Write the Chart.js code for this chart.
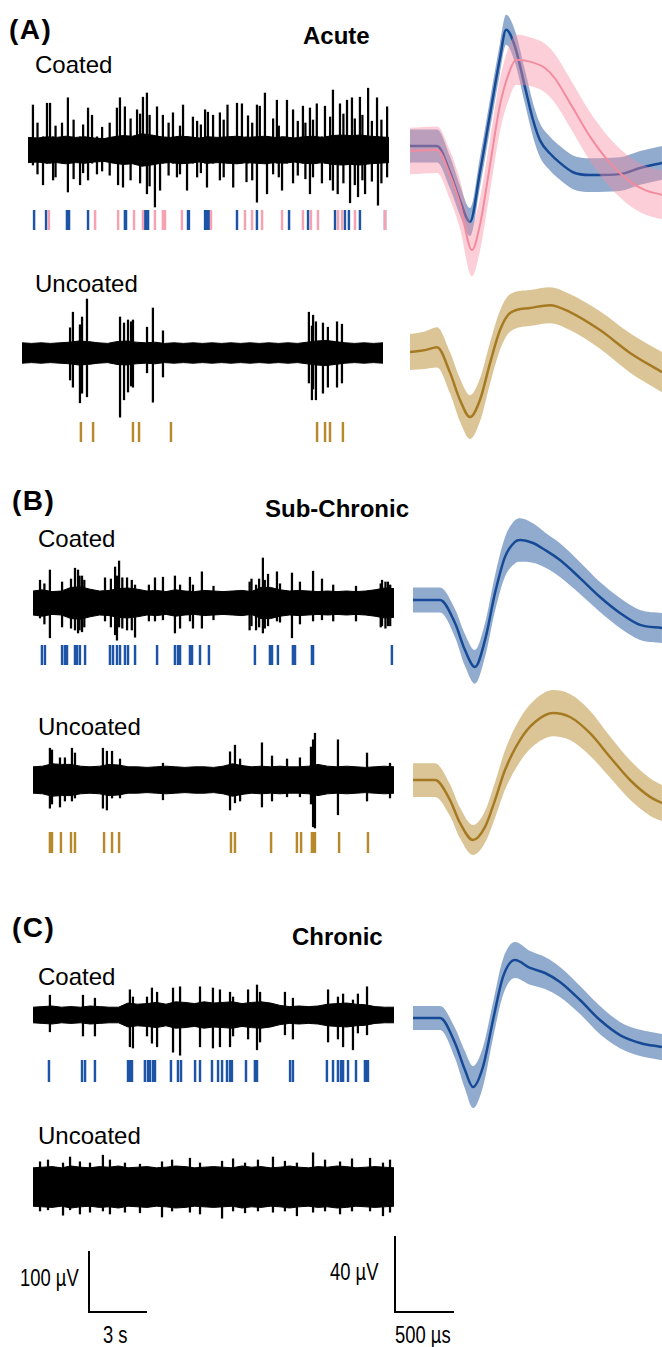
<!DOCTYPE html>
<html>
<head>
<meta charset="utf-8">
<script src="https://cdn.jsdelivr.net/npm/chart.js@4.4.1/dist/chart.umd.min.js"></script>
<style>
  body { margin: 0; width: 662px; height: 1347px; position: relative; overflow: hidden; background: #fff;
         font-family: "Liberation Sans", Arial, Helvetica, sans-serif; color: #000; }
  .lbl { position: absolute; white-space: nowrap; line-height: 1; }
  .panel { font-size: 28px; font-weight: bold; letter-spacing: 1.5px; }
  .title { font-size: 24px; font-weight: bold; }
  .cond { font-size: 24px; }
  .bar { font-size: 23px; transform: scaleX(0.8); transform-origin: left top; }
  canvas { position: absolute; }
</style>
</head>
<body>
<div class="lbl panel" style="left:9px;top:16px">(A)</div>
<div class="lbl title" style="left:303px;top:24px">Acute</div>
<div class="lbl cond" style="left:35px;top:53px">Coated</div>
<div class="lbl cond" style="left:35px;top:272px">Uncoated</div>

<div class="lbl panel" style="left:12px;top:487px">(B)</div>
<div class="lbl title" style="left:265px;top:497px">Sub-Chronic</div>
<div class="lbl cond" style="left:38px;top:527px">Coated</div>
<div class="lbl cond" style="left:38px;top:715px">Uncoated</div>

<div class="lbl panel" style="left:12px;top:914px">(C)</div>
<div class="lbl title" style="left:292px;top:925px">Chronic</div>
<div class="lbl cond" style="left:38px;top:965px">Coated</div>
<div class="lbl cond" style="left:38px;top:1124px">Uncoated</div>

<div class="lbl bar" style="left:20px;top:1267px">100 µV</div>
<div class="lbl bar" style="left:103px;top:1324px">3 s</div>
<div class="lbl bar" style="left:330px;top:1261px">40 µV</div>
<div class="lbl bar" style="left:395px;top:1324px">500 µs</div>

<script>
// ---- scales of the figure (from the scale bars) ----
const TRACE_PX_PER_S = 19;       // 3 s  -> 57 px
const TRACE_PX_PER_UV = 0.6;     // 100 uV -> 60 px
const WAVE_PX_PER_US = 58 / 500; // 500 us -> 58 px
const WAVE_PX_PER_UV = 75 / 40;  // 40 uV -> 75 px

// ---- raw traces: noise band half-width (uV) every 0.5 s ----
const coreTimesS = [0,0.5,1,1.5,2,2.5,3,3.5,4,4.5,5,5.5,6,6.5,7,7.5,8,8.5,9,9.5,10,10.5,11,11.5,12,12.5,13,13.5,14,14.5,15,15.5,16,16.5,17,17.5,18,18.5,19];
const acuteCoatedCore   = [21,20,22,21,23,21,22,20,19,22,24,23,27,25,22,21,23,22,20,22,21,22,23,21,22,23,21,22,20,22,23,21,24,25,24,25,23,22,21];
const acuteUncoatedCore = [17,16,17,16,17,18,20,19,17,16,19,20,18,17,18,16,17,16,17,16,17,16,17,16,17,16,17,16,17,16,18,20,21,19,17,16,17,16,17];
const subCoatedCore     = [20,22,19,20,26,27,23,20,21,24,25,23,20,21,19,22,20,19,21,20,19,20,21,19,26,26,22,20,21,20,19,20,19,20,19,20,22,25,24];
const subUncoatedCore   = [22,23,27,26,26,23,22,23,26,25,22,22,21,22,23,22,21,22,22,21,23,27,24,22,23,22,23,22,22,23,26,23,22,23,22,21,22,23,22];
const chronCoatedCore   = [13,14,15,13,14,13,15,14,13,13,20,18,19,21,18,22,21,19,22,20,21,22,19,21,22,20,16,14,15,14,15,18,19,20,18,17,14,13,13];
const chronUncoatedCore = [32,33,34,32,35,33,32,34,33,35,32,33,34,32,33,35,34,32,33,34,33,32,35,33,34,32,33,35,33,32,34,33,35,34,32,33,34,33,32];

// ---- spikes: time (s), top and bottom (uV) ----
const acuteCoatedSpikeT  = [0.26,0.5,0.79,1.0,1.16,1.32,1.45,1.79,2.1,2.4,2.74,2.9,3.16,3.37,3.63,3.9,4.3,4.68,4.74,4.84,5.0,5.1,5.4,5.74,5.9,6.05,6.26,6.4,6.68,6.79,6.95,7.1,7.4,7.63,7.84,8.0,8.16,8.37,8.68,8.9,9.1,9.32,9.42,9.47,9.74,10.1,10.3,10.5,10.8,11.0,11.26,11.5,11.58,11.8,12.05,12.2,12.47,12.58,12.9,13.1,13.2,13.37,13.63,13.95,14.2,14.47,14.6,14.84,15.0,15.2,15.47,15.63,15.9,16.05,16.3,16.42,16.6,16.79,16.95,17.05,17.2,17.37,17.47,17.6,17.74,17.9,18.1,18.37,18.42,18.6,18.9];
const acuteCoatedSpikeHi = [75,45,22,78,78,22,40,45,87,50,22,42,70,58,22,38,45,70,22,87,22,72,52,67,60,88,95,58,22,72,22,58,45,62,22,40,75,22,55,48,42,67,22,63,58,62,50,75,22,78,77,22,57,45,75,73,95,22,52,83,40,22,83,67,48,73,45,70,50,77,22,73,55,100,22,77,60,83,22,87,52,22,88,58,22,103,48,87,22,50,72];
const acuteCoatedSpikeLo = [-25,-40,-58,-22,-22,-50,-45,-22,-70,-48,-58,-38,-50,-22,-40,-35,-42,-22,-58,-22,-62,-22,-50,-22,-55,-22,-73,-60,-95,-22,-67,-22,-42,-22,-45,-40,-22,-67,-22,-45,-38,-22,-62,-22,-22,-50,-45,-22,-62,-22,-22,-53,-22,-50,-87,-22,-22,-73,-40,-22,-45,-67,-22,-55,-42,-22,-48,-73,-45,-22,-55,-22,-50,-67,-73,-22,-55,-22,-88,-22,-58,-78,-22,-50,-73,-22,-52,-22,-92,-55,-45];

const acuteUncoatedSpikeT  = [2.53,2.68,3.05,3.16,3.42,5.16,5.37,5.58,5.74,5.84,6.58,6.89,7.42,15.1,15.26,15.32,15.47,15.84,16.1,16.58,16.84];
const acuteUncoatedSpikeHi = [42,68,47,60,90,60,50,55,52,55,43,75,37,68,45,63,52,50,43,52,48];
const acuteUncoatedSpikeLo = [-45,-57,-83,-67,-73,-107,-78,-65,-55,-57,-33,-82,-40,-50,-78,-60,-78,-67,-57,-57,-50];

const subCoatedSpikeT  = [0.37,0.6,0.89,1.53,2.0,2.21,2.37,2.45,2.58,2.7,3.79,4.1,4.32,4.42,4.53,4.7,4.95,5.2,5.37,6.1,6.42,6.84,7.47,7.74,8.26,8.42,8.89,9.5,11.4,11.5,11.74,11.9,12.1,12.2,12.37,12.84,13.0,13.63,14.05,14.74,15.21,15.8,17.0,18.3,18.37,18.55,18.68,18.8];
const subCoatedSpikeHi = [38,32,55,35,40,58,55,45,45,38,42,40,60,45,70,42,42,38,30,30,42,43,45,30,43,30,52,28,35,40,30,40,75,38,48,52,32,50,35,53,40,30,28,32,38,35,35,30];
const subCoatedSpikeLo = [-25,-35,-58,-40,-42,-45,-50,-45,-48,-40,-30,-40,-53,-62,-40,-42,-45,-45,-57,-30,-30,-28,-50,-42,-30,-42,-42,-28,-45,-38,-45,-40,-50,-42,-38,-30,-32,-58,-35,-30,-28,-30,-30,-40,-38,-42,-38,-38];

const subUncoatedSpikeT  = [0.89,1.0,1.42,1.68,2.05,2.21,3.68,3.89,4.16,4.58,6.84,10.37,10.63,10.9,12.05,12.58,13.37,14.05,14.63,14.74,14.84,16.05,17.58,18.79];
const subUncoatedSpikeHi = [53,50,37,37,53,45,53,48,48,35,28,47,58,35,62,40,35,37,55,67,78,67,45,28];
const subUncoatedSpikeLo = [-47,-40,-45,-35,-35,-30,-47,-50,-30,-30,-33,-50,-38,-35,-45,-35,-28,-28,-40,-78,-80,-58,-35,-30];

const chronCoatedSpikeT  = [0.89,2.63,3.26,5.1,5.26,6.0,6.26,6.53,7.37,7.74,8.79,9.47,9.84,10.37,10.53,11.32,11.79,11.95,13.26,13.68,15.53,16.05,16.32,16.84,17.1,17.58];
const chronCoatedSpikeHi = [33,33,28,42,30,30,45,38,45,47,47,45,42,38,30,42,50,38,38,28,42,30,35,25,35,47];
const chronCoatedSpikeLo = [-28,-35,-35,-53,-55,-35,-47,-53,-62,-67,-53,-55,-53,-53,-35,-40,-58,-45,-33,-40,-45,-40,-53,-58,-30,-33];

const chronUncoatedSpikeT  = [0.37,0.79,1.58,1.95,2.47,3.0,3.68,4.05,4.84,5.63,6.79,7.32,8.26,8.79,9.95,10.53,11.16,11.84,12.63,13.26,13.89,14.74,15.37,16.16,16.79,17.74,18.42,18.79];
const chronUncoatedSpikeHi = [42,45,40,50,42,40,53,45,40,38,42,45,48,40,43,47,40,45,50,43,40,57,45,42,47,48,40,45];
const chronUncoatedSpikeLo = [-40,-38,-47,-38,-45,-42,-40,-45,-42,-43,-50,-40,-42,-45,-52,-40,-43,-40,-42,-40,-48,-42,-40,-45,-40,-40,-48,-42];

// ---- sorted unit rasters (spike times, s) ----
const acuteCoatedBlueT = [0.32,0.95,2.05,2.16,3.16,5.1,5.16,6.16,6.24,6.32,8.42,8.47,9.32,9.42,9.53,11.0,12.05,13.74,14.74,16.16,16.68,16.89,17.47,18.79];
const acuteCoatedPinkT = [1.1,3.53,4.74,5.58,6.05,6.68,7.1,7.21,8.1,9.63,11.42,11.79,12.32,13.37,14.47,14.89,15.26,16.32,16.53,17.21,18.79];
const acuteUncoatedGoldT = [3.1,3.74,5.84,6.16,7.84,15.53,15.95,16.21,16.89];
const subCoatedBlueT = [0.47,0.63,1.53,1.68,1.79,2.21,2.32,2.47,2.74,4.05,4.21,4.42,4.58,4.84,5.0,5.37,6.53,7.47,7.63,7.74,8.26,8.37,8.79,9.26,11.68,12.47,12.58,12.89,13.68,13.79,14.68,14.74,18.89];
const subUncoatedGoldT = [0.89,1.0,1.47,2.0,2.21,3.74,4.16,4.53,10.42,10.63,12.53,13.89,14.11,14.68,14.74,14.84,16.11,17.63];
const chronCoatedBlueT = [0.84,2.58,2.74,3.26,5.0,5.1,5.21,5.89,6.05,6.16,6.32,6.42,7.26,7.63,7.79,8.53,8.79,9.42,9.74,9.95,10.21,10.37,10.47,11.21,11.68,11.79,13.53,13.68,15.47,15.79,16.05,16.21,16.32,16.58,17.0,17.47,17.58,17.63];

// ---- mean waveforms: time (us), mean (uV), SD (uV) ----
const acuteBlueT    = [0,233,345,431,517,603,690,776,828,905,991,1060,1121,1207,1293,1405,1552,1810,1983,2172];
const acuteBlueMean = [0,0,-14,-29,-40.5,-14,17,47,62,53,31.5,14,3,-4,-9,-14,-15.5,-15,-11.7,-9];
const acuteBlueSD   = [8.8,8.8,8.5,8,7.5,8,8,8,8,8.5,9,9,9,9,9,9,9,9,9,9];

const acutePinkT    = [0,233,345,431,534,603,690,776,862,914,1034,1164,1250,1379,1552,1724,1897,2026,2172];
const acutePinkMean = [-2.7,-2,-15.5,-31,-55.5,-42,-10,22,40.5,46,45,41.6,36,23,5,-9,-19,-23.5,-26];
const acutePinkSD   = [12.4,12.4,13,13,14,14,14,14,14,13.5,13,13,13,13,13,13,13,13,13];

const acuteGoldT    = [0,129,233,345,431,517,603,690,776,862,1034,1207,1379,1638,1897,2172];
const acuteGoldMean = [0,1,2.5,-11,-25.6,-34.7,-25.6,-5.9,11.7,20.8,23.5,25,21.3,11.7,-0.5,-10.7];
const acuteGoldSD   = [9.6,10,10.7,11,11.5,11.7,11.5,11,10.5,10,9.6,9.6,9.6,10,10.5,10.7];

const subBlueT    = [0,233,362,448,534,621,707,793,879,922,1034,1138,1267,1440,1612,1784,1957,2146];
const subBlueMean = [0,0,-12.3,-26.7,-35.7,-21.3,3.7,23,31,32,30.4,26.7,21.3,11.7,1.6,-6.9,-13.3,-14.9];
const subBlueSD   = [6.7,6.7,7.5,8.5,9,9,9.5,10.5,11.5,11.6,10.5,9.3,9,8.5,8,8,8,8];

const subGoldT    = [0,190,319,405,517,621,707,793,922,1052,1207,1353,1526,1698,1871,2043,2146];
const subGoldMean = [0,0,-10.7,-22.9,-32,-25,-10.7,5.3,21.3,30.9,35.7,33.6,25,12.3,0,-9,-12.3];
const subGoldSD   = [9,9,8.5,8.2,8,8.5,9.5,10.5,11.5,12,12.3,12.3,12,11,10.5,10,9.6];

const chronBlueT    = [0,233,362,448,517,603,690,776,879,1009,1138,1267,1440,1612,1784,1957,2146];
const chronBlueMean = [0,0,-13.3,-27.7,-36.8,-26.1,-1.1,21.9,30.9,26.7,24,19.2,9.6,-1.1,-9.1,-13.3,-15.5];
const chronBlueSD   = [6.4,6.4,8,10,11.2,10.5,9.5,9.6,9.6,9,8.5,8,7.5,7.5,7,7,7];

// ---- scale bars ----
const traceBarS  = [0, 0, 3];
const traceBarUV = [100, 0, 0];
const waveBarUS  = [0, 0, 500];
const waveBarUV  = [40, 0, 0];

// colours
const BLUE_LINE = '#0c3d8e', BLUE_BAND = 'rgba(34,88,158,0.5)';
const PINK_LINE = '#f08b9e', PINK_BAND = 'rgba(247,140,162,0.42)';
const GOLD_LINE = '#8a5a00', GOLD_BAND = 'rgba(189,150,64,0.55)';
const RASTER_BLUE = '#1d54a5', RASTER_PINK = '#f6a2b3', RASTER_GOLD = '#b68a2c';

// ---- helpers ----
function makeCanvas(left, top, w, h) {
    const c = document.createElement('canvas');
    c.width = w; c.height = h;
    c.style.left = left + 'px'; c.style.top = top + 'px';
    c.style.width = w + 'px'; c.style.height = h + 'px';
    document.body.appendChild(c);
    return c;
}
function xRange(left, w, originX, ppu) {
    return { min: (left - originX) / ppu, max: (left + w - originX) / ppu };
}
function yRange(top, h, originY, ppu) {
    return { min: (originY - top - h) / ppu, max: (originY - top) / ppu };
}
function baseOptions(x, y) {
    return {
        responsive: false, animation: false, events: [],
        layout: { padding: 0 },
        plugins: { legend: { display: false }, tooltip: { enabled: false } },
        scales: {
            x: { type: 'linear', display: false, offset: false, min: x.min, max: x.max },
            y: { type: 'linear', display: false, min: y.min, max: y.max }
        }
    };
}
const pts = (xs, ys) => xs.map((v, i) => ({ x: v, y: ys[i] }));

// Raw trace: noise band + spikes
function drawTrace(pos, core, spikeT, spikeHi, spikeLo) {
    const top = pos.cy - pos.h / 2;
    const c = makeCanvas(pos.left, top, pos.w, pos.h);
    new Chart(c, {
        type: 'bar',
        data: { datasets: [
            { type: 'line', data: pts(coreTimesS, core), borderColor: '#000', borderWidth: 1,
              backgroundColor: '#000', pointRadius: 0, tension: 0, fill: '+1', clip: false },
            { type: 'line', data: pts(coreTimesS, core.map(v => -v)), borderColor: '#000', borderWidth: 1,
              pointRadius: 0, tension: 0, fill: false, clip: false },
            { type: 'bar', data: spikeT.map((t, i) => ({ x: t, y: [spikeLo[i], spikeHi[i]] })),
              backgroundColor: '#000', barThickness: 1.6, grouped: false }
        ]},
        options: baseOptions(xRange(pos.left, pos.w, pos.left, TRACE_PX_PER_S),
                             yRange(top, pos.h, pos.cy, TRACE_PX_PER_UV))
    });
}

// Raster of sorted spikes under a trace
function drawRaster(pos, sets) {
    const c = makeCanvas(pos.left, pos.top, pos.w, pos.h);
    new Chart(c, {
        type: 'bar',
        data: { datasets: sets.map(s => ({
            data: s.times.map(t => ({ x: t, y: [0, 1] })),
            backgroundColor: s.color, barThickness: 1.8, grouped: false
        })) },
        options: baseOptions(xRange(pos.left, pos.w, pos.left, TRACE_PX_PER_S), { min: 0, max: 1 })
    });
}

// Mean waveform with +/- SD band
function drawWave(pos, units) {
    const c = makeCanvas(pos.left, pos.top, pos.w, pos.h);
    const sets = [];
    units.forEach(u => {
        const common = { type: 'line', pointRadius: 0, cubicInterpolationMode: 'monotone', clip: false };
        sets.push(Object.assign({}, common, { data: pts(u.t, u.mean.map((m, i) => m + u.sd[i])),
            borderColor: 'rgba(0,0,0,0)', borderWidth: 1, backgroundColor: u.band, fill: '+1' }));
        sets.push(Object.assign({}, common, { data: pts(u.t, u.mean.map((m, i) => m - u.sd[i])),
            borderColor: 'rgba(0,0,0,0)', borderWidth: 1, fill: false }));
        sets.push(Object.assign({}, common, { data: pts(u.t, u.mean), borderColor: u.line,
            borderWidth: u.width, fill: false }));
    });
    new Chart(c, {
        type: 'line',
        data: { datasets: sets },
        options: baseOptions(xRange(pos.left, pos.w, pos.left, WAVE_PX_PER_US),
                             yRange(pos.top, pos.h, pos.baseY, WAVE_PX_PER_UV))
    });
}

function drawScaleBar(pos, xs, ys, ppuX, ppuY) {
    const c = makeCanvas(pos.left, pos.top, pos.w, pos.h);
    new Chart(c, {
        type: 'line',
        data: { datasets: [{ data: pts(xs, ys), borderColor: '#000', borderWidth: 2, pointRadius: 0,
                             tension: 0, fill: false, clip: false, borderCapStyle: 'square' }] },
        options: baseOptions(xRange(pos.left, pos.w, pos.ox, ppuX), yRange(pos.top, pos.h, pos.oy, ppuY))
    });
}

// ---- (A) Acute ----
drawTrace({ left: 28, cy: 150, w: 364, h: 150 }, acuteCoatedCore, acuteCoatedSpikeT, acuteCoatedSpikeHi, acuteCoatedSpikeLo);
drawRaster({ left: 28, top: 210, w: 364, h: 20 }, [
    { times: acuteCoatedPinkT, color: RASTER_PINK },
    { times: acuteCoatedBlueT, color: RASTER_BLUE }
]);
drawTrace({ left: 22, cy: 353, w: 364, h: 150 }, acuteUncoatedCore, acuteUncoatedSpikeT, acuteUncoatedSpikeHi, acuteUncoatedSpikeLo);
drawRaster({ left: 22, top: 422, w: 364, h: 20 }, [{ times: acuteUncoatedGoldT, color: RASTER_GOLD }]);

drawWave({ left: 410, top: 5, w: 252, h: 280, baseY: 146 }, [
    { t: acutePinkT, mean: acutePinkMean, sd: acutePinkSD, line: PINK_LINE, band: PINK_BAND, width: 2 },
    { t: acuteBlueT, mean: acuteBlueMean, sd: acuteBlueSD, line: BLUE_LINE, band: BLUE_BAND, width: 2.5 }
]);
drawWave({ left: 410, top: 282, w: 252, h: 165, baseY: 352 }, [
    { t: acuteGoldT, mean: acuteGoldMean, sd: acuteGoldSD, line: GOLD_LINE, band: GOLD_BAND, width: 2.5 }
]);

// ---- (B) Sub-Chronic ----
drawTrace({ left: 33, cy: 603, w: 362, h: 150 }, subCoatedCore, subCoatedSpikeT, subCoatedSpikeHi, subCoatedSpikeLo);
drawRaster({ left: 33, top: 645, w: 362, h: 20 }, [{ times: subCoatedBlueT, color: RASTER_BLUE }]);
drawTrace({ left: 33, cy: 780, w: 362, h: 150 }, subUncoatedCore, subUncoatedSpikeT, subUncoatedSpikeHi, subUncoatedSpikeLo);
drawRaster({ left: 33, top: 832, w: 362, h: 21 }, [{ times: subUncoatedGoldT, color: RASTER_GOLD }]);

drawWave({ left: 413, top: 510, w: 249, h: 180, baseY: 600 }, [
    { t: subBlueT, mean: subBlueMean, sd: subBlueSD, line: BLUE_LINE, band: BLUE_BAND, width: 2.5 }
]);
drawWave({ left: 413, top: 685, w: 249, h: 180, baseY: 780 }, [
    { t: subGoldT, mean: subGoldMean, sd: subGoldSD, line: GOLD_LINE, band: GOLD_BAND, width: 2.5 }
]);

// ---- (C) Chronic ----
drawTrace({ left: 33, cy: 1015, w: 362, h: 140 }, chronCoatedCore, chronCoatedSpikeT, chronCoatedSpikeHi, chronCoatedSpikeLo);
drawRaster({ left: 33, top: 1060, w: 362, h: 22 }, [{ times: chronCoatedBlueT, color: RASTER_BLUE }]);
drawTrace({ left: 33, cy: 1187, w: 362, h: 120 }, chronUncoatedCore, chronUncoatedSpikeT, chronUncoatedSpikeHi, chronUncoatedSpikeLo);

drawWave({ left: 413, top: 935, w: 249, h: 180, baseY: 1018 }, [
    { t: chronBlueT, mean: chronBlueMean, sd: chronBlueSD, line: BLUE_LINE, band: BLUE_BAND, width: 2.5 }
]);

// ---- scale bars ----
drawScaleBar({ left: 80, top: 1240, w: 80, h: 80, ox: 89, oy: 1312 }, traceBarS, traceBarUV, TRACE_PX_PER_S, TRACE_PX_PER_UV);
drawScaleBar({ left: 385, top: 1228, w: 80, h: 92, ox: 395, oy: 1312 }, waveBarUS, waveBarUV, WAVE_PX_PER_US, WAVE_PX_PER_UV);
</script>
</body>
</html>
